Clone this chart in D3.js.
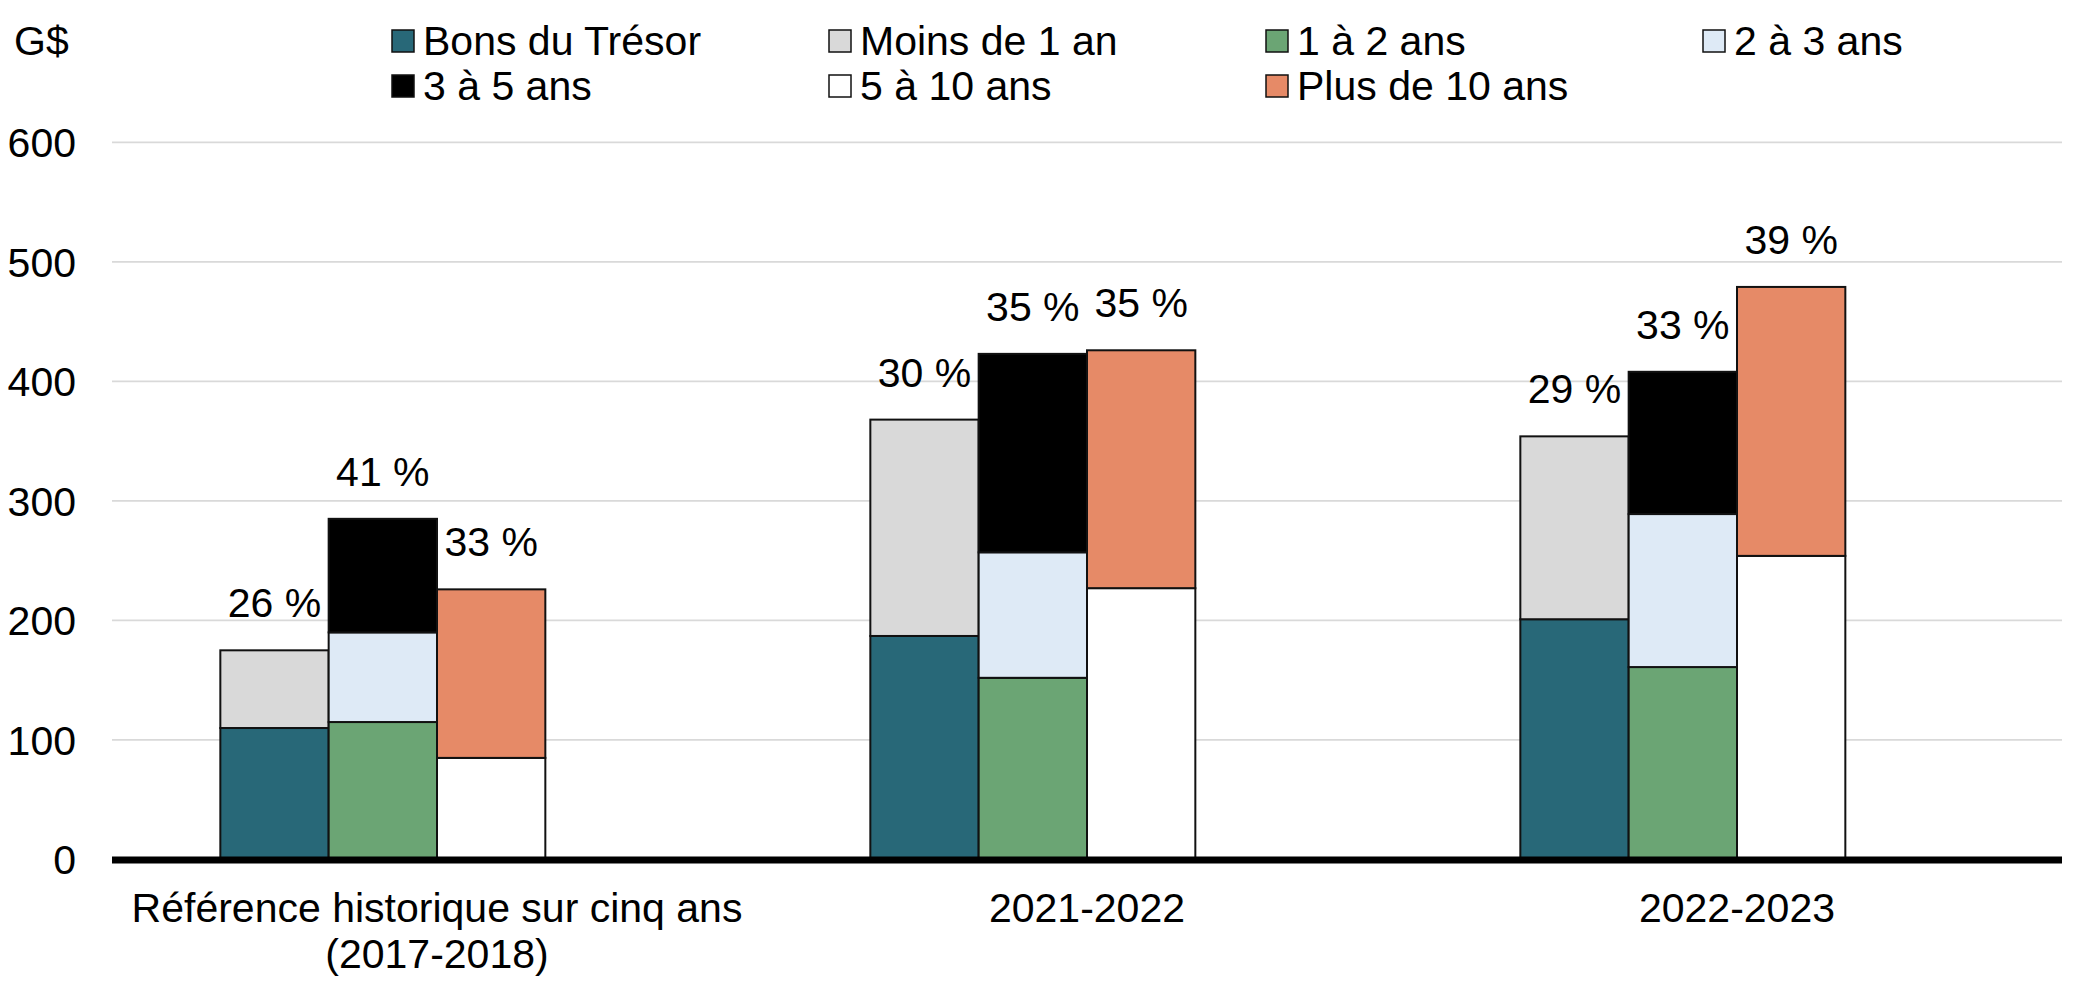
<!DOCTYPE html>
<html>
<head>
<meta charset="utf-8">
<script src="https://cdn.jsdelivr.net/npm/d3@7"></script>
<style>
  html, body { margin: 0; padding: 0; background: #ffffff; }
  svg { display: block; }
  text { font-family: "Liberation Sans", Arial, Helvetica, sans-serif; fill: #000; }
</style>
</head>
<body>
<svg id="chart" width="2091" height="999"></svg>
<script>
// ---------- data ----------
const categories = ["Référence historique sur cinq ans (2017-2018)", "2021-2022", "2022-2023"];
const categoryLines = [["Référence historique sur cinq ans", "(2017-2018)"], ["2021-2022"], ["2022-2023"]];

const seriesNames = ["Bons du Trésor", "Moins de 1 an", "1 à 2 ans", "2 à 3 ans", "3 à 5 ans", "5 à 10 ans", "Plus de 10 ans"];
const seriesColors = ["#286878", "#D9D9D9", "#6BA574", "#DEEAF6", "#000000", "#FFFFFF", "#E68A67"];

const bonsTresor = [110, 187, 201];
const moins1an   = [65, 181, 153];
const un2ans     = [115, 152, 161];
const deux3ans   = [75, 105, 128];
const trois5ans  = [95, 166, 119];
const cinq10ans  = [85, 227, 254];
const plus10ans  = [141, 199, 225];

// share labels per category: [short stack, middle stack, long stack]
const shareLabels = [["26 %", "41 %", "33 %"], ["30 %", "35 %", "35 %"], ["29 %", "33 %", "39 %"]];

const yTicks = [0, 100, 200, 300, 400, 500, 600];
const yUnit = "G$";

// stacks (which series sit in which bar of the cluster)
const stackGroups = [
  ["Bons du Trésor", "Moins de 1 an"],
  ["1 à 2 ans", "2 à 3 ans", "3 à 5 ans"],
  ["5 à 10 ans", "Plus de 10 ans"]
];
const seriesValues = {
  "Bons du Trésor": bonsTresor, "Moins de 1 an": moins1an, "1 à 2 ans": un2ans,
  "2 à 3 ans": deux3ans, "3 à 5 ans": trois5ans, "5 à 10 ans": cinq10ans, "Plus de 10 ans": plus10ans
};

// ---------- layout ----------
const svg = d3.select("#chart");
const plotLeft = 112, plotRight = 2062;
const color = d3.scaleOrdinal().domain(seriesNames).range(seriesColors);

const y = d3.scaleLinear().domain([0, 600]).range([859.5, 142.3]);
const x0 = d3.scaleBand().domain(categories).range([plotLeft, plotRight]).paddingInner(0).paddingOuter(0);
// 4 slots per cluster, the 4th is empty (as in the original chart)
const slots = ["s0", "s1", "s2", "s3"];
const x1 = d3.scaleBand().domain(slots).range([0, x0.bandwidth()]).paddingInner(0).paddingOuter(1);

const FONT = 41;

// gridlines
svg.append("g").selectAll("line").data(yTicks.filter(d => d > 0)).join("line")
  .attr("x1", plotLeft).attr("x2", plotRight)
  .attr("y1", d => y(d)).attr("y2", d => y(d))
  .attr("stroke", "#D9D9D9").attr("stroke-width", 1.8);

// y axis labels
const yAxis = d3.axisLeft(y).tickValues(yTicks).tickSize(0).tickPadding(0).tickFormat(d3.format("d"));
const yg = svg.append("g").attr("transform", "translate(76,0)").call(yAxis);
yg.select(".domain").remove();
yg.selectAll("text").attr("font-size", FONT).attr("font-family", null).attr("dy", "0.35em");

// unit label
svg.append("text").attr("x", 14).attr("y", 41).attr("dy", "0.35em")
  .attr("font-size", FONT).text(yUnit);

// bars
const barsG = svg.append("g");
categories.forEach((cat, ci) => {
  stackGroups.forEach((keys, si) => {
    const row = {};
    keys.forEach(k => row[k] = seriesValues[k][ci]);
    const stacked = d3.stack().keys(keys)([row]);
    const bx = x0(cat) + x1(slots[si]);
    barsG.append("g").selectAll("rect").data(stacked).join("rect")
      .attr("x", bx)
      .attr("width", x1.bandwidth())
      .attr("y", d => y(d[0][1]))
      .attr("height", d => y(d[0][0]) - y(d[0][1]))
      .attr("fill", d => color(d.key))
      .attr("stroke", "#111")
      .attr("stroke-width", 2);
    const total = d3.sum(keys, k => seriesValues[k][ci]);
    svg.append("text")
      .attr("x", bx + x1.bandwidth() / 2)
      .attr("y", y(total) - 33)
      .attr("text-anchor", "middle")
      .attr("font-size", FONT)
      .text(shareLabels[ci][si]);
  });
});

// x axis line
svg.append("line").attr("x1", plotLeft).attr("x2", plotRight)
  .attr("y1", y(0) + 0.5).attr("y2", y(0) + 0.5)
  .attr("stroke", "#000").attr("stroke-width", 7);

// category labels
const xl = svg.append("g");
categories.forEach((cat, ci) => {
  const t = xl.append("text")
    .attr("x", x0(cat) + x0.bandwidth() / 2)
    .attr("y", 922)
    .attr("text-anchor", "middle")
    .attr("font-size", FONT);
  categoryLines[ci].forEach((line, li) => {
    t.append("tspan").attr("x", x0(cat) + x0.bandwidth() / 2)
      .attr("dy", li === 0 ? 0 : 46).text(line);
  });
});

// legend
const legendOrder = seriesNames;
const lg = svg.append("g");
legendOrder.forEach((name, i) => {
  const col = i < 4 ? i : i - 4;
  const rowI = i < 4 ? 0 : 1;
  const lx = 392 + col * 437;
  const ly = 41 + rowI * 45;
  lg.append("rect").attr("x", lx).attr("y", ly - 11).attr("width", 22).attr("height", 22)
    .attr("fill", color(name)).attr("stroke", "#111").attr("stroke-width", 1.5);
  lg.append("text").attr("x", lx + 31).attr("y", ly).attr("dy", "0.35em")
    .attr("font-size", FONT).text(name);
});
</script>
</body>
</html>
